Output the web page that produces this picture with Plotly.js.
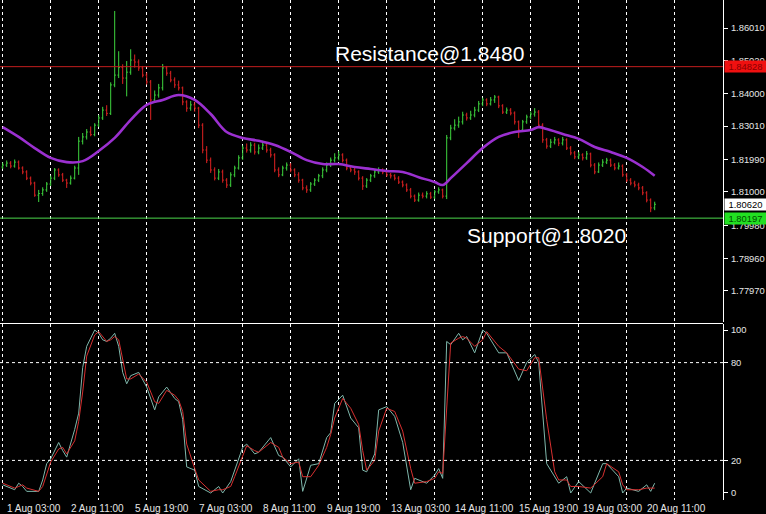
<!DOCTYPE html>
<html>
<head>
<meta charset="utf-8">
<script src="https://cdn.plot.ly/plotly-3.0.1.min.js"></script>
<style>html,body{margin:0;padding:0;background:#000;}#chart{width:766px;height:514px;}</style>
</head>
<body>
<div id="chart"></div>
<script>
// ---- OHLC bars (H2), oldest first ----
const barOpen = [
1.8176,1.8182,1.8188,1.8179,1.8191,1.8173,1.8161,1.8142,1.8127,1.8090,
1.8095,1.8106,1.8124,1.8142,1.8167,1.8152,1.8136,1.8127,1.8142,1.8173,
1.8255,1.8268,1.8283,1.8275,1.8304,1.8326,1.8350,1.8340,1.8427,1.8457,
1.8480,1.8448,1.8466,1.8503,1.8497,1.8479,1.8457,1.8436,1.8381,1.8396,
1.8418,1.8479,1.8463,1.8442,1.8427,1.8418,1.8375,1.8356,1.8366,1.8356,
1.8304,1.8228,1.8197,1.8167,1.8142,1.8161,1.8136,1.8121,1.8152,1.8173,
1.8204,1.8234,1.8228,1.8243,1.8222,1.8234,1.8243,1.8228,1.8213,1.8167,
1.8152,1.8173,1.8182,1.8167,1.8152,1.8136,1.8112,1.8106,1.8124,1.8136,
1.8149,1.8167,1.8182,1.8197,1.8204,1.8213,1.8197,1.8173,1.8167,1.8161,
1.8142,1.8118,1.8136,1.8149,1.8161,1.8167,1.8161,1.8152,1.8149,1.8142,
1.8130,1.8121,1.8106,1.8087,1.8075,1.8090,1.8087,1.8094,1.8084,1.8100,
1.8106,1.8087,1.8265,1.8295,1.8304,1.8314,1.8335,1.8326,1.8335,1.8350,
1.8369,1.8381,1.8369,1.8381,1.8390,1.8363,1.8344,1.8350,1.8341,1.8314,
1.8289,1.8314,1.8329,1.8338,1.8344,1.8304,1.8259,1.8240,1.8252,1.8259,
1.8249,1.8259,1.8234,1.8219,1.8207,1.8213,1.8204,1.8216,1.8182,1.8161,
1.8182,1.8191,1.8197,1.8182,1.8173,1.8179,1.8152,1.8136,1.8127,1.8121,
1.8112,1.8097,1.8075,1.8051];
const barHigh = [
1.8190,1.8196,1.8194,1.8199,1.8196,1.8178,1.8166,1.8147,1.8131,1.8106,
1.8114,1.8130,1.8150,1.8173,1.8172,1.8158,1.8140,1.8150,1.8180,1.8268,
1.8280,1.8292,1.8300,1.8310,1.8335,1.8360,1.8365,1.8435,1.8653,1.8530,
1.8490,1.8500,1.8536,1.8520,1.8505,1.8485,1.8465,1.8442,1.8410,1.8430,
1.8491,1.8485,1.8470,1.8450,1.8440,1.8422,1.8380,1.8378,1.8375,1.8360,
1.8310,1.8240,1.8205,1.8175,1.8170,1.8168,1.8142,1.8160,1.8180,1.8212,
1.8242,1.8248,1.8252,1.8250,1.8245,1.8256,1.8250,1.8235,1.8218,1.8175,
1.8180,1.8190,1.8188,1.8172,1.8160,1.8140,1.8120,1.8130,1.8142,1.8155,
1.8175,1.8190,1.8205,1.8218,1.8225,1.8218,1.8202,1.8180,1.8174,1.8166,
1.8148,1.8142,1.8155,1.8168,1.8175,1.8172,1.8166,1.8158,1.8154,1.8148,
1.8135,1.8126,1.8112,1.8092,1.8098,1.8098,1.8102,1.8100,1.8106,1.8114,
1.8110,1.8274,1.8305,1.8322,1.8330,1.8345,1.8342,1.8348,1.8360,1.8378,
1.8388,1.8386,1.8390,1.8396,1.8394,1.8368,1.8358,1.8356,1.8346,1.8318,
1.8320,1.8336,1.8346,1.8356,1.8350,1.8310,1.8265,1.8262,1.8268,1.8264,
1.8268,1.8264,1.8240,1.8225,1.8222,1.8218,1.8225,1.8220,1.8188,1.8190,
1.8200,1.8204,1.8202,1.8188,1.8190,1.8184,1.8158,1.8142,1.8134,1.8128,
1.8118,1.8102,1.8080,1.8070];
const barLow = [
1.8170,1.8176,1.8172,1.8174,1.8168,1.8154,1.8136,1.8120,1.8085,1.8069,
1.8088,1.8100,1.8118,1.8136,1.8146,1.8130,1.8112,1.8122,1.8138,1.8152,
1.8245,1.8260,1.8270,1.8270,1.8298,1.8320,1.8332,1.8335,1.8420,1.8448,
1.8430,1.8392,1.8458,1.8480,1.8470,1.8450,1.8428,1.8320,1.8372,1.8388,
1.8410,1.8455,1.8435,1.8418,1.8410,1.8365,1.8345,1.8348,1.8345,1.8295,
1.8218,1.8188,1.8158,1.8135,1.8136,1.8128,1.8112,1.8115,1.8145,1.8168,
1.8198,1.8220,1.8220,1.8214,1.8215,1.8228,1.8220,1.8205,1.8160,1.8145,
1.8148,1.8165,1.8160,1.8145,1.8128,1.8105,1.8097,1.8100,1.8118,1.8130,
1.8142,1.8160,1.8176,1.8190,1.8196,1.8190,1.8166,1.8160,1.8152,1.8135,
1.8106,1.8112,1.8130,1.8143,1.8155,1.8154,1.8146,1.8141,1.8135,1.8124,
1.8114,1.8100,1.8080,1.8069,1.8070,1.8080,1.8080,1.8078,1.8078,1.8094,
1.8080,1.8078,1.8258,1.8288,1.8296,1.8306,1.8318,1.8320,1.8328,1.8344,
1.8362,1.8362,1.8364,1.8372,1.8356,1.8338,1.8338,1.8334,1.8306,1.8265,
1.8284,1.8308,1.8322,1.8330,1.8296,1.8250,1.8232,1.8234,1.8245,1.8240,
1.8242,1.8228,1.8212,1.8200,1.8200,1.8196,1.8198,1.8175,1.8154,1.8158,
1.8176,1.8185,1.8176,1.8166,1.8168,1.8146,1.8130,1.8120,1.8114,1.8105,
1.8090,1.8068,1.8038,1.8044];
const barClose = [
1.8182,1.8188,1.8179,1.8191,1.8173,1.8161,1.8142,1.8127,1.8090,1.8095,
1.8106,1.8124,1.8142,1.8167,1.8152,1.8136,1.8127,1.8142,1.8173,1.8255,
1.8268,1.8283,1.8275,1.8304,1.8326,1.8350,1.8340,1.8427,1.8457,1.8480,
1.8448,1.8466,1.8503,1.8497,1.8479,1.8457,1.8436,1.8381,1.8396,1.8418,
1.8479,1.8463,1.8442,1.8427,1.8418,1.8375,1.8356,1.8366,1.8356,1.8304,
1.8228,1.8197,1.8167,1.8142,1.8161,1.8136,1.8121,1.8152,1.8173,1.8204,
1.8234,1.8228,1.8243,1.8222,1.8234,1.8243,1.8228,1.8213,1.8167,1.8152,
1.8173,1.8182,1.8167,1.8152,1.8136,1.8112,1.8106,1.8124,1.8136,1.8149,
1.8167,1.8182,1.8197,1.8204,1.8213,1.8197,1.8173,1.8167,1.8161,1.8142,
1.8118,1.8136,1.8149,1.8161,1.8167,1.8161,1.8152,1.8149,1.8142,1.8130,
1.8121,1.8106,1.8087,1.8075,1.8090,1.8087,1.8094,1.8084,1.8100,1.8106,
1.8087,1.8265,1.8295,1.8304,1.8314,1.8335,1.8326,1.8335,1.8350,1.8369,
1.8381,1.8369,1.8381,1.8390,1.8363,1.8344,1.8350,1.8341,1.8314,1.8289,
1.8314,1.8329,1.8338,1.8344,1.8304,1.8259,1.8240,1.8252,1.8259,1.8249,
1.8259,1.8234,1.8219,1.8207,1.8213,1.8204,1.8216,1.8182,1.8161,1.8182,
1.8191,1.8197,1.8182,1.8173,1.8179,1.8152,1.8136,1.8127,1.8121,1.8112,
1.8097,1.8075,1.8051,1.8062];

// ---- Moving average (read at bar indices) ----
const maIdx = [0,4,8,12,16,20,24,28,32,36,40,44,48,52,56,60,64,68,72,76,80,84,88,92,96,100,104,108,110,112,116,120,124,128,132,134,136,140,144,148,152,156,160,163];
const maVal = [1.8298,1.8268,1.8234,1.8204,1.8191,1.8194,1.8225,1.8265,1.8320,1.8366,1.8381,1.8396,1.8381,1.8338,1.8283,1.8265,1.8256,1.8243,1.8222,1.8197,1.8185,1.8185,1.8176,1.8170,1.8164,1.8161,1.8145,1.8130,1.8121,1.8142,1.8188,1.8234,1.8268,1.8283,1.8289,1.8298,1.8292,1.8277,1.8262,1.8237,1.8222,1.8204,1.8176,1.8149];

// ---- Stochastic oscillator ----
const stIdx = [0,1,3,4,5,6,9,10,11,12,14,15,16,18,19,20,21,23,24,25,26,27,28,29,30,31,32,34,36,38,39,41,43,44,45,46,48,49,52,54,55,57,58,60,61,63,64,67,69,70,72,74,75,77,79,81,82,83,85,87,89,90,91,93,94,96,98,100,102,103,106,108,109,110,111,112,114,115,116,118,120,121,124,126,129,131,133,134,136,138,139,141,142,144,147,150,151,154,155,156,159,161,162,163];
const stMain = [5,4,2,6,4,1,1,8,18,21,31,26,22,39,49,77,90,100,98,94,93,95,98,90,74,67,72,74,65,51,59,65,58,56,45,16,14,4,0,4,0,7,14,28,30,24,25,34,23,22,16,21,1,17,18,34,37,55,60,46,40,14,13,24,51,53,47,31,2,9,6,11,15,9,93,91,98,94,96,86,100,98,86,86,69,80,85,80,18,10,6,10,0,7,0,18,18,10,0,3,1,5,1,6];
const stSignal = [6,5,3,4,5,3,1,4,12,19,27,28,24,32,44,62,84,97,99,96,93,94,96,94,82,70,70,73,68,56,55,63,60,57,50,30,15,8,1,2,2,4,10,22,29,26,25,31,28,22,18,19,10,10,17,28,36,46,58,52,42,26,14,20,38,52,50,38,15,6,7,9,13,12,50,92,95,96,95,90,94,99,90,86,76,75,83,83,45,13,8,8,4,4,3,10,18,13,5,2,2,3,3,3];
const stLevels = [20, 80];

// ---- Axis labels & levels ----
const priceTicks = [1.7797,1.7896,1.7998,1.8100,1.8199,1.8301,1.8400,1.8502,1.8601];
const priceTickText = ['1.77970','1.78960','1.79980','1.81000','1.81990','1.83010','1.84000','1.85020','1.86010'];
const stTicks = [0,20,80,100];
const timeLabelIdx = [0,16,32,48,64,80,96,112,128,144,160];
const timeLabels = ['1 Aug 03:00','2 Aug 11:00','5 Aug 19:00','7 Aug 03:00','8 Aug 11:00','9 Aug 19:00','13 Aug 03:00','14 Aug 11:00','15 Aug 19:00','19 Aug 03:00','20 Aug 11:00'];
const resistanceLevel = 1.84828;
const supportLevel = 1.80197;
const bidPrice = 1.80620;
const resistanceText = 'Resistance@1.8480';
const supportText = 'Support@1.8020';

const barIdx = barClose.map((_, i) => i);

const axisFont = {family: 'Liberation Sans, Arial, sans-serif', size: 10, color: '#e6e6e6'};
const priceFont = {family: 'Liberation Sans, Arial, sans-serif', size: 9.4, color: '#e6e6e6'};

const traces = [
  {type: 'ohlc', x: barIdx, open: barOpen, high: barHigh, low: barLow, close: barClose,
   xaxis: 'x', yaxis: 'y', tickwidth: 0.3,
   increasing: {line: {color: '#3ed43e', width: 1}},
   decreasing: {line: {color: '#e02222', width: 1}}, hoverinfo: 'skip'},
  {type: 'scatter', mode: 'lines', x: maIdx, y: maVal, xaxis: 'x', yaxis: 'y',
   line: {color: '#9b30d0', width: 2.6, shape: 'spline', smoothing: 1}, hoverinfo: 'skip'},
  {type: 'scatter', mode: 'lines', x: stIdx, y: stMain, xaxis: 'x', yaxis: 'y2',
   line: {color: '#7fb8ac', width: 1}, hoverinfo: 'skip'},
  {type: 'scatter', mode: 'lines', x: stIdx, y: stSignal, xaxis: 'x', yaxis: 'y2',
   line: {color: '#d83030', width: 1}, hoverinfo: 'skip'}
];

const shapes = [
  {type: 'line', xref: 'paper', x0: 0, x1: 1, yref: 'y', y0: resistanceLevel, y1: resistanceLevel, line: {color: '#c41e1e', width: 1}},
  {type: 'line', xref: 'paper', x0: 0, x1: 1, yref: 'y', y0: supportLevel, y1: supportLevel, line: {color: '#4cd84c', width: 1}},
  {type: 'line', xref: 'paper', x0: 0, x1: 1, yref: 'paper', y0: 0.353, y1: 0.353, line: {color: '#ffffff', width: 1}}
];
stLevels.forEach(v => shapes.push({type: 'line', xref: 'paper', x0: 0, x1: 1, yref: 'y2', y0: v, y1: v,
  line: {color: '#ffffff', width: 1, dash: '3px,3px'}}));

const annotations = [
  {xref: 'x', yref: 'y', x: 82.6, y: resistanceLevel, xanchor: 'left', yanchor: 'bottom', yshift: 0,
   text: resistanceText, showarrow: false, font: {family: 'Liberation Sans, Arial, sans-serif', size: 21, color: '#ffffff'}},
  {xref: 'x', yref: 'y', x: 115.5, y: supportLevel, xanchor: 'left', yanchor: 'top', yshift: -4,
   text: supportText, showarrow: false, font: {family: 'Liberation Sans, Arial, sans-serif', size: 21, color: '#ffffff'}},
  {xref: 'paper', yref: 'y', x: 1, y: resistanceLevel, xanchor: 'left', yanchor: 'middle', xshift: 1,
   text: resistanceLevel.toFixed(5), showarrow: false, bgcolor: '#f01010', borderpad: 0, width: 41,
   font: {family: 'Liberation Sans, Arial, sans-serif', size: 9.4, color: '#8a0000'}},
  {xref: 'paper', yref: 'y', x: 1, y: bidPrice, xanchor: 'left', yanchor: 'middle', xshift: 1,
   text: bidPrice.toFixed(5), showarrow: false, bgcolor: '#ffffff', borderpad: 0, width: 41,
   font: {family: 'Liberation Sans, Arial, sans-serif', size: 9.4, color: '#000000'}},
  {xref: 'paper', yref: 'y', x: 1, y: supportLevel, xanchor: 'left', yanchor: 'middle', xshift: 1,
   text: supportLevel.toFixed(5), showarrow: false, bgcolor: '#22e022', borderpad: 0, width: 41,
   font: {family: 'Liberation Sans, Arial, sans-serif', size: 9.4, color: '#004d00'}}
];
timeLabelIdx.forEach((idx, k) => annotations.push({
  xref: 'x', yref: 'paper', x: idx, y: 0, xanchor: 'left', yanchor: 'top', xshift: 2, yshift: -1,
  text: timeLabels[k], showarrow: false, font: axisFont}));

const layout = {
  width: 766, height: 514,
  paper_bgcolor: '#000000', plot_bgcolor: '#000000',
  margin: {l: 0, r: 43, t: 0, b: 14},
  showlegend: false,
  xaxis: {range: [-0.675, 180.075], anchor: 'y2', showgrid: true, gridcolor: '#ffffff', gridwidth: 1,
          griddash: '3px,3px', tickmode: 'linear', tick0: 0, dtick: 12, showticklabels: false,
          zeroline: false, ticks: '', rangeslider: {visible: false}, fixedrange: true},
  yaxis: {domain: [0.356, 1], range: [1.77022, 1.86866], side: 'right', showgrid: false, zeroline: false,
          tickmode: 'array', tickvals: priceTicks, ticktext: priceTickText, ticks: 'outside', ticklen: 4,
          tickcolor: '#ffffff', showline: true, linecolor: '#ffffff', linewidth: 1, tickfont: priceFont,
          ticklabelstandoff: 1},
  yaxis2: {domain: [0, 0.352], range: [-4.3, 103.7], side: 'right', showgrid: false, zeroline: false,
           tickmode: 'array', tickvals: stTicks, ticks: 'outside', ticklen: 4, tickcolor: '#ffffff',
           showline: true, linecolor: '#ffffff', linewidth: 1, tickfont: priceFont, ticklabelstandoff: 1},
  shapes: shapes,
  annotations: annotations
};

Plotly.newPlot('chart', traces, layout, {displayModeBar: false, staticPlot: true});
</script>
</body>
</html>
